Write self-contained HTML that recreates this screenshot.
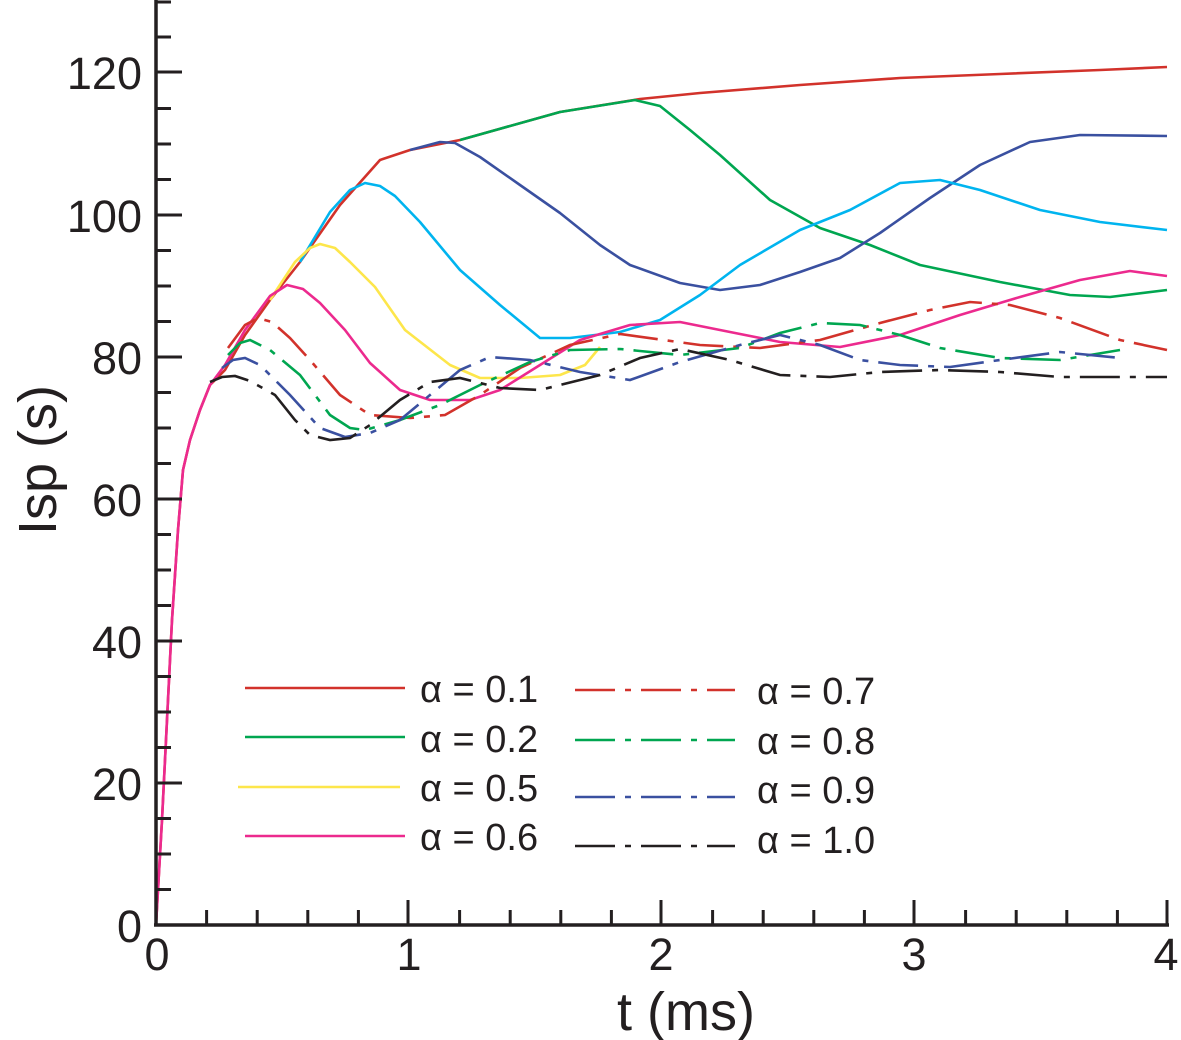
<!DOCTYPE html>
<html><head><meta charset="utf-8"><style>
html,body{margin:0;padding:0;background:#fff;}
svg{display:block;}
text{font-family:"Liberation Sans",Arial,sans-serif;fill:#231f20;}
</style></head><body>
<svg width="1181" height="1040" viewBox="0 0 1181 1040" xmlns="http://www.w3.org/2000/svg">
<g fill="none" stroke-width="2.6" stroke-linejoin="round" stroke-linecap="butt">
<polyline stroke="#d2322b" points="156,925 158,890 162,820 167,720 172,620 178,530 183,470 190,440 200,410 210,385 225,370 245,335 270,300 300,262 340,205 380,160 410,150 460,140 560,112 640,99 700,93 800,85 900,78 1000,74 1100,70 1167,67"/>
<polyline stroke="#00a650" points="460,140 560,112 635,100 660,106 690,130 720,155 770,200 820,228 870,245 920,265 1000,282 1070,295 1110,297 1167,290"/>
<polyline stroke="#3a50a0" points="410,150 440,142 455,143 480,157 520,185 560,213 600,245 630,265 680,283 720,290 760,285 800,272 840,258 880,233 930,198 980,165 1030,142 1080,135 1167,136"/>
<polyline stroke="#00b4ef" points="300,262 330,212 350,190 365,183 380,186 395,196 420,222 460,270 500,305 540,338 570,338 620,332 660,320 700,295 740,265 800,230 850,210 900,183 940,180 980,190 1040,210 1100,222 1167,230"/>
<polyline stroke="#fde64b" points="270,300 295,262 310,248 320,244 335,248 350,262 375,287 405,330 450,365 480,378 520,378 560,375 585,365 600,347"/>
<polyline stroke="#ec2a8e" points="156,925 158,890 162,820 167,720 172,620 178,530 183,470 190,440 200,410 210,385 225,365 245,330 270,296 287,285 303,289 320,303 345,330 370,363 400,390 430,400 470,400 500,390 540,365 580,340 630,325 680,322 720,330 780,342 840,347 900,335 960,315 1020,297 1080,280 1130,271 1167,276"/>
</g>
<g fill="none" stroke-width="2.6" stroke-dasharray="40 10 6 10">
<polyline stroke="#d2322b" points="228,348 245,325 258,318 272,322 290,338 310,360 340,395 370,415 410,418 445,415 480,395 520,368 570,345 620,334 700,345 760,348 820,340 880,323 930,310 970,302 1010,305 1060,318 1120,340 1167,350"/>
<polyline stroke="#00a650" points="228,355 240,343 250,340 270,350 300,375 330,415 350,428 365,430 400,420 440,405 480,385 530,362 570,350 620,349 680,355 740,348 780,333 820,323 860,325 900,335 940,348 1000,358 1060,360 1120,350"/>
<polyline stroke="#3a50a0" points="222,368 233,360 245,358 260,365 290,395 320,428 345,437 370,433 400,420 430,395 460,370 490,357 530,360 580,372 630,380 680,362 740,345 780,335 820,345 860,360 900,365 950,367 1000,360 1060,352 1120,358"/>
<polyline stroke="#231f20" points="210,382 222,377 235,376 250,381 275,395 295,420 310,435 330,440 350,438 370,425 400,400 430,382 460,378 500,388 540,390 600,375 640,358 680,349 730,360 780,375 830,377 880,372 940,370 1000,372 1060,377 1167,377"/>
</g>
<g stroke="#231f20" stroke-width="3.5" fill="none">
<line x1="156" y1="0" x2="156" y2="926.5"/>
<line x1="154" y1="925" x2="1169" y2="925"/>
</g>
<g stroke="#231f20" stroke-width="3">
<line x1="156" y1="783" x2="182" y2="783"/><line x1="156" y1="641" x2="182" y2="641"/><line x1="156" y1="499" x2="182" y2="499"/><line x1="156" y1="357" x2="182" y2="357"/><line x1="156" y1="215" x2="182" y2="215"/><line x1="156" y1="72" x2="182" y2="72"/>
<line x1="156" y1="889.5" x2="171" y2="889.5"/><line x1="156" y1="854" x2="171" y2="854"/><line x1="156" y1="818.5" x2="171" y2="818.5"/>
<line x1="156" y1="747.5" x2="171" y2="747.5"/><line x1="156" y1="712" x2="171" y2="712"/><line x1="156" y1="676.5" x2="171" y2="676.5"/>
<line x1="156" y1="605.5" x2="171" y2="605.5"/><line x1="156" y1="570" x2="171" y2="570"/><line x1="156" y1="534.5" x2="171" y2="534.5"/>
<line x1="156" y1="463.5" x2="171" y2="463.5"/><line x1="156" y1="428" x2="171" y2="428"/><line x1="156" y1="392.5" x2="171" y2="392.5"/>
<line x1="156" y1="321.5" x2="171" y2="321.5"/><line x1="156" y1="286" x2="171" y2="286"/><line x1="156" y1="250.5" x2="171" y2="250.5"/>
<line x1="156" y1="179.5" x2="171" y2="179.5"/><line x1="156" y1="144" x2="171" y2="144"/><line x1="156" y1="108.5" x2="171" y2="108.5"/>
<line x1="156" y1="37" x2="171" y2="37"/><line x1="156" y1="2" x2="171" y2="2"/>
<line x1="408" y1="925" x2="408" y2="900"/><line x1="661" y1="925" x2="661" y2="900"/><line x1="914" y1="925" x2="914" y2="900"/><line x1="1167" y1="925" x2="1167" y2="900"/>
<line x1="206.6" y1="925" x2="206.6" y2="910"/><line x1="257.2" y1="925" x2="257.2" y2="910"/><line x1="307.8" y1="925" x2="307.8" y2="910"/><line x1="358.4" y1="925" x2="358.4" y2="910"/>
<line x1="459.6" y1="925" x2="459.6" y2="910"/><line x1="510.2" y1="925" x2="510.2" y2="910"/><line x1="560.8" y1="925" x2="560.8" y2="910"/><line x1="611.4" y1="925" x2="611.4" y2="910"/>
<line x1="712.6" y1="925" x2="712.6" y2="910"/><line x1="763.2" y1="925" x2="763.2" y2="910"/><line x1="813.8" y1="925" x2="813.8" y2="910"/><line x1="864.4" y1="925" x2="864.4" y2="910"/>
<line x1="965.6" y1="925" x2="965.6" y2="910"/><line x1="1016.2" y1="925" x2="1016.2" y2="910"/><line x1="1066.8" y1="925" x2="1066.8" y2="910"/><line x1="1117.4" y1="925" x2="1117.4" y2="910"/>
</g>
<g font-size="45" text-anchor="end">
<text x="142" y="942">0</text><text x="142" y="800">20</text><text x="142" y="658">40</text><text x="142" y="516">60</text><text x="142" y="374">80</text><text x="142" y="232">100</text><text x="142" y="89">120</text>
</g>
<g font-size="45" text-anchor="middle">
<text x="157" y="970">0</text><text x="409" y="970">1</text><text x="661" y="970">2</text><text x="914" y="970">3</text><text x="1166" y="970">4</text>
</g>
<text x="686" y="1030" font-size="54" text-anchor="middle">t (ms)</text>
<text transform="translate(56,460) rotate(-90)" font-size="54" text-anchor="middle">Isp (s)</text>
<g fill="none" stroke-width="2.6">
<line x1="245" y1="688" x2="405" y2="688" stroke="#d2322b"/>
<line x1="245" y1="737" x2="405" y2="737" stroke="#00a650"/>
<line x1="238" y1="787" x2="400" y2="787" stroke="#fde64b"/>
<line x1="245" y1="836" x2="405" y2="836" stroke="#ec2a8e"/>
<g stroke-dasharray="40 10 6 10">
<line x1="575" y1="690" x2="735" y2="690" stroke="#d2322b"/>
<line x1="575" y1="740" x2="735" y2="740" stroke="#00a650"/>
<line x1="575" y1="797" x2="735" y2="797" stroke="#3a50a0"/>
<line x1="575" y1="846" x2="735" y2="846" stroke="#231f20"/>
</g>
</g>
<g font-size="38">
<text x="420" y="702">α = 0.1</text>
<text x="420" y="752">α = 0.2</text>
<text x="420" y="801">α = 0.5</text>
<text x="420" y="850">α = 0.6</text>
<text x="757" y="704">α = 0.7</text>
<text x="757" y="754">α = 0.8</text>
<text x="757" y="803">α = 0.9</text>
<text x="757" y="853">α = 1.0</text>
</g>
</svg>
</body></html>
